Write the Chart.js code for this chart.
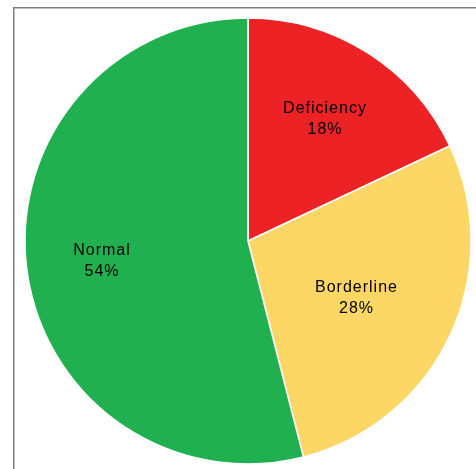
<!DOCTYPE html>
<html>
<head>
<meta charset="utf-8">
<script src="https://cdn.jsdelivr.net/npm/chart.js@4/dist/chart.umd.min.js"></script>
<style>
html,body{margin:0;padding:0;background:#fff;}
#wrap{position:relative;width:476px;height:469px;}
</style>
</head>
<body>
<div id="wrap"><canvas id="c" width="476" height="469"></canvas></div>
<script>
const categories = ["Deficiency", "Borderline", "Normal"];
const values = [18, 28, 54];
const percentLabels = ["18%", "28%", "54%"];
const colors = ["#ED2224", "#FDD766", "#21B04F"];

const framePlugin = {
  id: 'frame',
  beforeDraw(chart) {
    const ctx = chart.ctx;
    ctx.save();
    ctx.strokeStyle = '#7f7f7f';
    ctx.lineWidth = 1.5;
    ctx.beginPath();
    ctx.moveTo(13.75, chart.height);
    ctx.lineTo(13.75, 7.75);
    ctx.lineTo(chart.width, 7.75);
    ctx.stroke();
    ctx.restore();
  }
};

const labelPlugin = {
  id: 'sliceLabels',
  afterDatasetsDraw(chart, args, opts) {
    const ctx = chart.ctx;
    const meta = chart.getDatasetMeta(0);
    ctx.save();
    ctx.fillStyle = '#000';
    ctx.font = '16px "Liberation Sans", Arial, sans-serif';
    ctx.textAlign = 'center';
    ctx.textBaseline = 'middle';
    try { ctx.letterSpacing = opts.letterSpacing; } catch(e) {}
    meta.data.forEach((arc, i) => {
      const p = arc.getProps(['x','y','startAngle','endAngle','outerRadius'], true);
      const mid = (p.startAngle + p.endAngle) / 2 + opts.angleOffsets[i] * Math.PI / 180;
      const r = p.outerRadius * opts.radiusFactors[i];
      const cx = p.x + Math.cos(mid) * r + 0.5;
      const cy = p.y + Math.sin(mid) * r + 1;
      ctx.fillText(categories[i], cx, cy - opts.lineGap / 2);
      ctx.fillText(percentLabels[i], cx, cy + opts.lineGap / 2);
    });
    ctx.restore();
  }
};

new Chart(document.getElementById('c'), {
  type: 'pie',
  data: {
    labels: categories,
    datasets: [{
      data: values,
      backgroundColor: colors,
      borderColor: '#ffffff',
      borderWidth: 1.5,
      radius: 223
    }]
  },
  options: {
    responsive: false,
    animation: false,
    layout: { padding: { left: 20, right: 0, top: 13, bottom: 0 } },
    plugins: {
      legend: { display: false },
      tooltip: { enabled: false },
      sliceLabels: {
        radiusFactors: [0.6495, 0.5456, 0.6624],
        angleOffsets: [-0.52, 2.21, -0.19],
        lineGap: 21.5,
        letterSpacing: '1px'
      }
    }
  },
  plugins: [framePlugin, labelPlugin]
});
</script>
</body>
</html>
